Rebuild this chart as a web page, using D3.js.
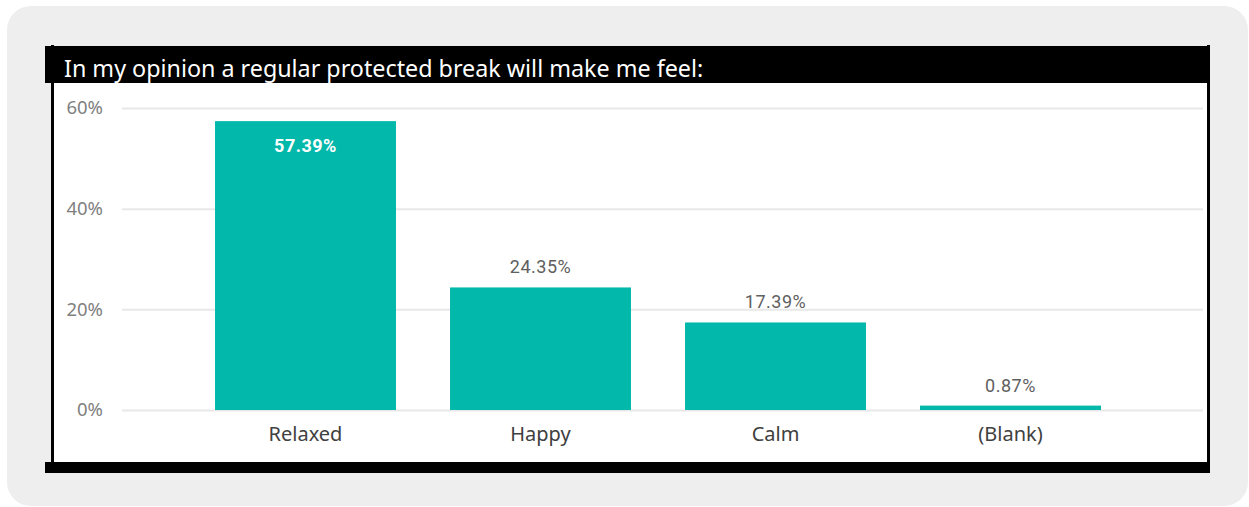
<!DOCTYPE html>
<html>
<head>
<meta charset="utf-8">
<script src="https://cdn.jsdelivr.net/npm/d3@7"></script>
<style>
  html, body { margin: 0; padding: 0; background: #ffffff; }
  svg { display: block; }
</style>
</head>
<body>
<svg id="chart" width="1249" height="507"></svg>
<script>
// Survey answers and their shares (percent)
const categories = ["Relaxed", "Happy", "Calm", "(Blank)"];
const values = [57.39, 24.35, 17.39, 0.87];
const yTicks = [0, 20, 40, 60];
const title = "In my opinion a regular protected break will make me feel:";

const svg = d3.select("#chart");

// Rounded grey card behind the visual
svg.append("rect")
  .attr("x", 7).attr("y", 6)
  .attr("width", 1241).attr("height", 500)
  .attr("rx", 24).attr("ry", 24)
  .attr("fill", "#eeeeee");

// Visual frame: black title bar, bottom bar, side borders, white body
svg.append("rect")
  .attr("x", 45).attr("y", 46)
  .attr("width", 1165).attr("height", 37)
  .attr("fill", "#000000");
svg.append("rect")
  .attr("x", 45).attr("y", 462)
  .attr("width", 1165).attr("height", 11)
  .attr("fill", "#000000");
svg.append("rect")
  .attr("x", 51).attr("y", 45)
  .attr("width", 3).attr("height", 420)
  .attr("fill", "#000000");
svg.append("rect")
  .attr("x", 1207).attr("y", 45)
  .attr("width", 3).attr("height", 420)
  .attr("fill", "#000000");
svg.append("rect")
  .attr("x", 54).attr("y", 83)
  .attr("width", 1153).attr("height", 379)
  .attr("fill", "#ffffff");

svg.append("text")
  .attr("x", 64).attr("y", 77)
  .attr("fill", "#ffffff")
  .attr("font-family", "'Noto Sans', sans-serif")
  .attr("font-size", 23.3)
  .text(title);

// Scales
const y = d3.scaleLinear().domain([0, 60]).range([410, 108]);
const x = d3.scaleBand()
  .domain(categories)
  .range([188, 1128])
  .paddingInner(0.23)
  .paddingOuter(0.115);

// Gridlines and y tick labels
const yAxis = d3.axisLeft(y)
  .tickValues(yTicks)
  .tickFormat(d => d + "%")
  .tickSize(-(1203 - 122))
  .tickPadding(19);

const gy = svg.append("g")
  .attr("transform", "translate(122,0)")
  .call(yAxis);
gy.select(".domain").remove();
gy.selectAll(".tick line")
  .attr("stroke", "#e8e8e8")
  .attr("stroke-width", 2);
gy.selectAll(".tick text")
  .attr("fill", "#808080")
  .attr("font-family", "'Noto Sans', sans-serif")
  .attr("font-size", 18.5);

// Bars
svg.append("g").selectAll("rect")
  .data(values)
  .join("rect")
  .attr("x", (d, i) => x(categories[i]))
  .attr("width", x.bandwidth())
  .attr("y", d => y(d))
  .attr("height", d => y(0) - y(d))
  .attr("fill", "#01b8aa");

// Category axis
const xAxis = d3.axisBottom(x).tickSize(0).tickPadding(17);
const gx = svg.append("g")
  .attr("transform", "translate(0,410)")
  .call(xAxis);
gx.select(".domain").remove();
gx.selectAll(".tick text")
  .attr("fill", "#404040")
  .attr("font-family", "'Noto Sans', sans-serif")
  .attr("font-size", 20);

// Data labels: inside the tall bar, above the others
svg.append("g").selectAll("text")
  .data(values)
  .join("text")
  .attr("x", (d, i) => x(categories[i]) + x.bandwidth() / 2)
  .attr("y", d => d > 40 ? y(d) + 31 : y(d) - 14)
  .attr("text-anchor", "middle")
  .attr("font-family", "Roboto, sans-serif")
  .attr("font-size", 18)
  .attr("letter-spacing", 0.5)
  .attr("font-weight", d => d > 40 ? 700 : 400)
  .attr("fill", d => d > 40 ? "#ffffff" : "#606060")
  .text(d => d.toFixed(2) + "%");
</script>
</body>
</html>
